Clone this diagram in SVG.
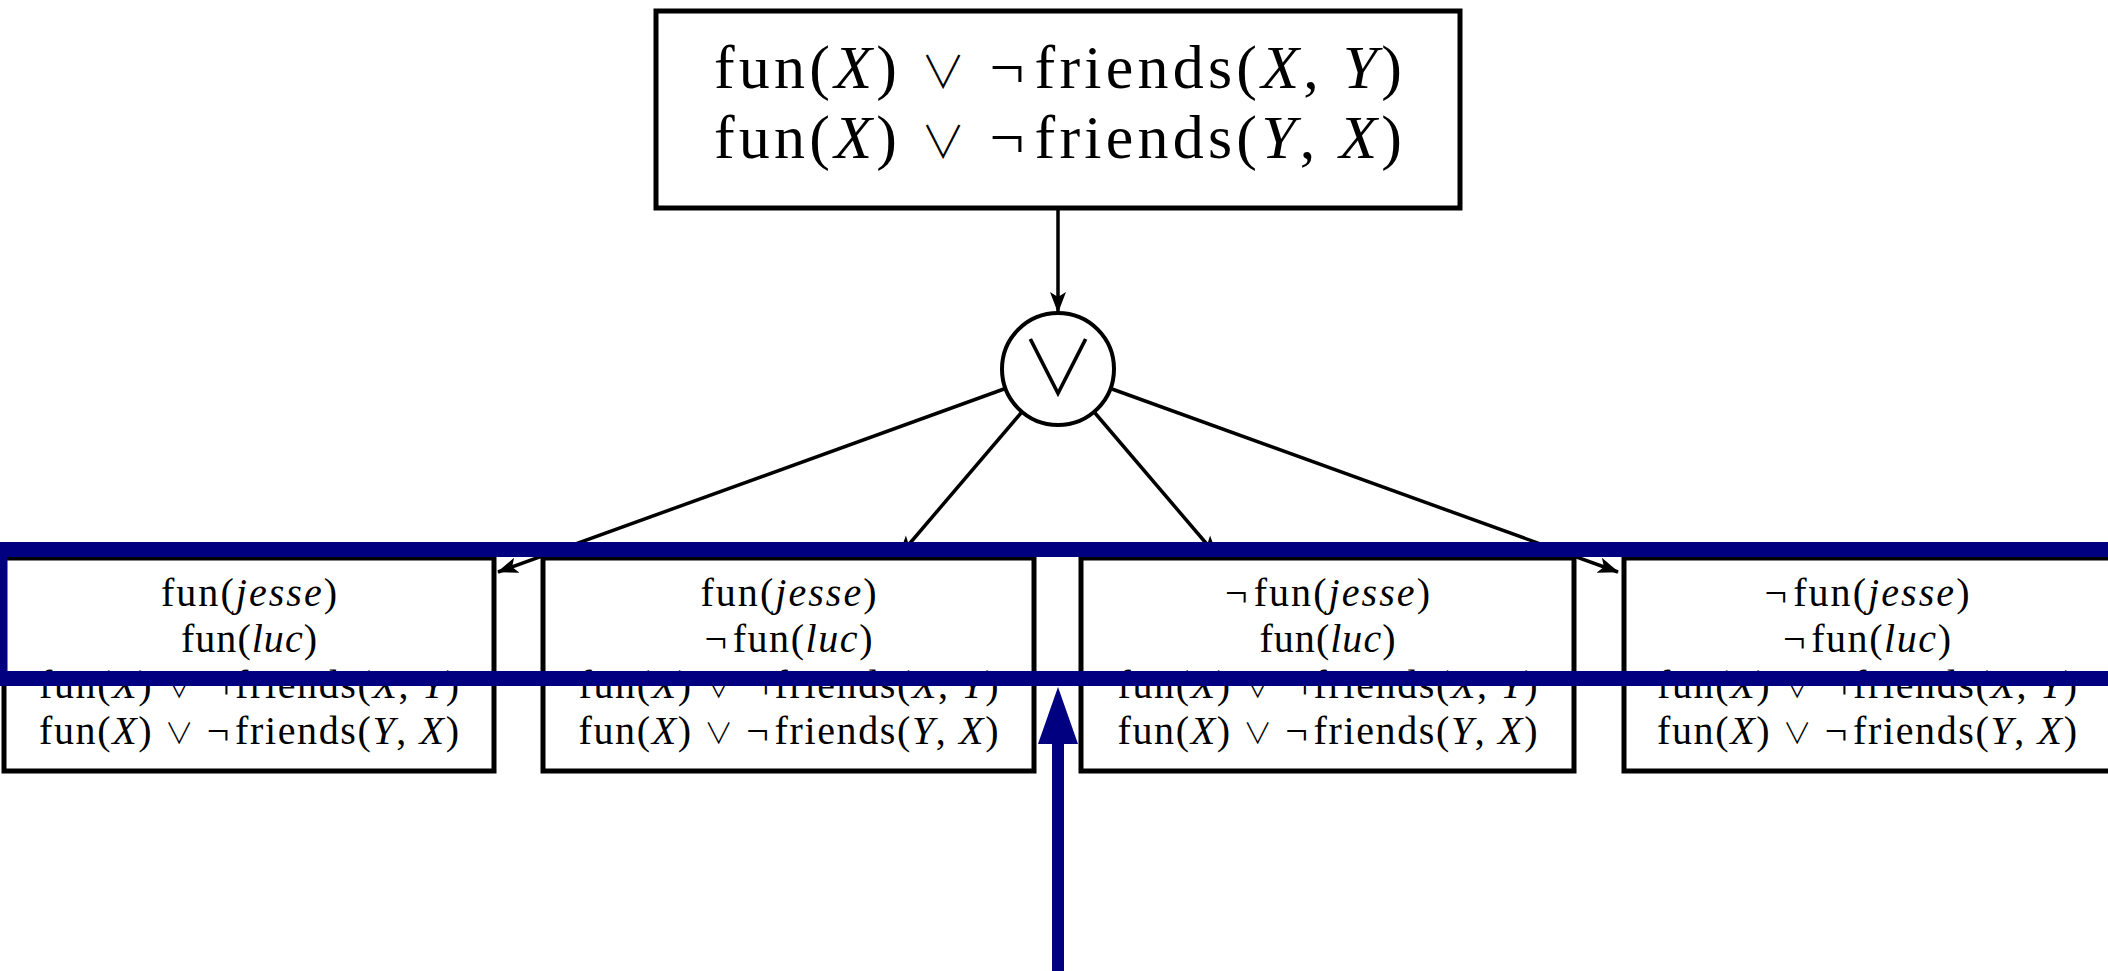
<svg xmlns="http://www.w3.org/2000/svg" width="2108" height="971" viewBox="0 0 2108 971">
<style>
  .box { fill: #ffffff; stroke: #000000; stroke-width: 5; }
  .t { font-family: "Liberation Serif", "DejaVu Serif", serif; fill: #000000; text-anchor: middle; }
  .big { font-size: 62px; }
  .small { font-size: 40px; }
  .i { font-style: italic; }
  .op { font-family: "Noto Sans CJK JP", "DejaVu Sans", sans-serif; font-weight: 300; font-style: normal; }
  .t .op { font-size: 0.72em; }
  .edge { stroke: #000000; stroke-width: 3.5; fill: none; marker-end: url(#ah); }
  .hl { stroke: #000080; fill: none; }
</style>
<defs>
  <marker id="ah" markerUnits="userSpaceOnUse" markerWidth="24" markerHeight="18" refX="20" refY="9" orient="auto">
    <path d="M0,1 L21,9 L0,17 L5,9 Z" fill="#000000"/>
  </marker>
</defs>
<rect x="0" y="0" width="2108" height="971" fill="#ffffff"/>

<g id="connectors">
  <line class="edge" x1="1058" y1="210" x2="1058" y2="312"/>
  <line class="edge" x1="1004" y1="389" x2="498" y2="572"/>
  <line class="edge" x1="1021" y1="413" x2="899" y2="556"/>
  <line class="edge" x1="1095" y1="413" x2="1217" y2="556"/>
  <line class="edge" x1="1112" y1="389" x2="1618" y2="572"/>
</g>

<g id="root">
  <rect class="box" x="656" y="11" width="804" height="197"/>
  <text class="t big" x="1058" y="88" textLength="688" lengthAdjust="spacing">fun(<tspan class="i">X</tspan>) <tspan class="op">∨</tspan> ¬<tspan dx="6">friends(</tspan><tspan class="i">X</tspan>, <tspan class="i">Y</tspan>)</text>
  <text class="t big" x="1058" y="158" textLength="688" lengthAdjust="spacing">fun(<tspan class="i">X</tspan>) <tspan class="op">∨</tspan> ¬<tspan dx="6">friends(</tspan><tspan class="i">Y</tspan>, <tspan class="i">X</tspan>)</text>
</g>

<g id="or">
  <circle cx="1058" cy="369" r="56" fill="#ffffff" stroke="#000000" stroke-width="4"/>
  <text class="op" x="1058" y="396" font-size="76" text-anchor="middle" fill="#000000">∨</text>
</g>

<g id="w1">
  <rect class="box" x="4" y="558" width="490" height="213"/>
  <text class="t small" x="249" y="606" textLength="176" lengthAdjust="spacing">fun(<tspan class="i">jesse</tspan>)</text>
  <text class="t small" x="249" y="652" textLength="136" lengthAdjust="spacing">fun(<tspan class="i">luc</tspan>)</text>
  <text class="t small" x="249" y="698" textLength="420" lengthAdjust="spacing">fun(<tspan class="i">X</tspan>) <tspan class="op">∨</tspan> ¬<tspan dx="4">friends(</tspan><tspan class="i">X</tspan>, <tspan class="i">Y</tspan>)</text>
  <text class="t small" x="249" y="744" textLength="420" lengthAdjust="spacing">fun(<tspan class="i">X</tspan>) <tspan class="op">∨</tspan> ¬<tspan dx="4">friends(</tspan><tspan class="i">Y</tspan>, <tspan class="i">X</tspan>)</text>
</g>

<g id="w2">
  <rect class="box" x="543" y="558" width="491" height="213"/>
  <text class="t small" x="788.5" y="606" textLength="176" lengthAdjust="spacing">fun(<tspan class="i">jesse</tspan>)</text>
  <text class="t small" x="788.5" y="652" textLength="168" lengthAdjust="spacing">¬<tspan dx="4">fun(</tspan><tspan class="i">luc</tspan>)</text>
  <text class="t small" x="788.5" y="698" textLength="420" lengthAdjust="spacing">fun(<tspan class="i">X</tspan>) <tspan class="op">∨</tspan> ¬<tspan dx="4">friends(</tspan><tspan class="i">X</tspan>, <tspan class="i">Y</tspan>)</text>
  <text class="t small" x="788.5" y="744" textLength="420" lengthAdjust="spacing">fun(<tspan class="i">X</tspan>) <tspan class="op">∨</tspan> ¬<tspan dx="4">friends(</tspan><tspan class="i">Y</tspan>, <tspan class="i">X</tspan>)</text>
</g>

<g id="w3">
  <rect class="box" x="1081" y="558" width="493" height="213"/>
  <text class="t small" x="1327.5" y="606" textLength="205" lengthAdjust="spacing">¬<tspan dx="4">fun(</tspan><tspan class="i">jesse</tspan>)</text>
  <text class="t small" x="1327.5" y="652" textLength="136" lengthAdjust="spacing">fun(<tspan class="i">luc</tspan>)</text>
  <text class="t small" x="1327.5" y="698" textLength="420" lengthAdjust="spacing">fun(<tspan class="i">X</tspan>) <tspan class="op">∨</tspan> ¬<tspan dx="4">friends(</tspan><tspan class="i">X</tspan>, <tspan class="i">Y</tspan>)</text>
  <text class="t small" x="1327.5" y="744" textLength="420" lengthAdjust="spacing">fun(<tspan class="i">X</tspan>) <tspan class="op">∨</tspan> ¬<tspan dx="4">friends(</tspan><tspan class="i">Y</tspan>, <tspan class="i">X</tspan>)</text>
</g>

<g id="w4">
  <rect class="box" x="1624" y="558" width="492" height="213"/>
  <text class="t small" x="1867" y="606" textLength="205" lengthAdjust="spacing">¬<tspan dx="4">fun(</tspan><tspan class="i">jesse</tspan>)</text>
  <text class="t small" x="1867" y="652" textLength="168" lengthAdjust="spacing">¬<tspan dx="4">fun(</tspan><tspan class="i">luc</tspan>)</text>
  <text class="t small" x="1867" y="698" textLength="420" lengthAdjust="spacing">fun(<tspan class="i">X</tspan>) <tspan class="op">∨</tspan> ¬<tspan dx="4">friends(</tspan><tspan class="i">X</tspan>, <tspan class="i">Y</tspan>)</text>
  <text class="t small" x="1867" y="744" textLength="420" lengthAdjust="spacing">fun(<tspan class="i">X</tspan>) <tspan class="op">∨</tspan> ¬<tspan dx="4">friends(</tspan><tspan class="i">Y</tspan>, <tspan class="i">X</tspan>)</text>
</g>

<g id="highlight">
  <rect class="hl" x="0" y="549.5" width="2200" height="129" stroke-width="15"/>
  <line class="hl" x1="1058" y1="971" x2="1058" y2="742" stroke-width="12"/>
  <polygon points="1038,744 1078,744 1058,687" fill="#000080"/>
</g>
</svg>
